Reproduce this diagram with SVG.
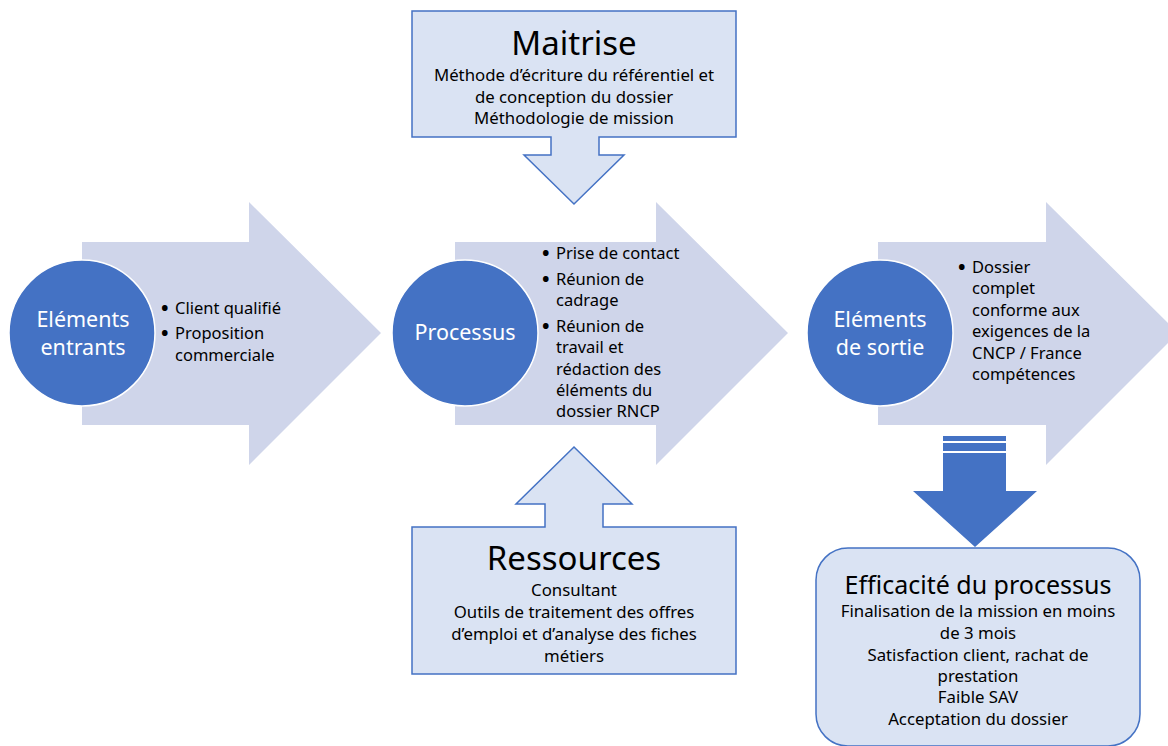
<svg xmlns="http://www.w3.org/2000/svg" width="1168" height="746" viewBox="0 0 1168 746">
<style>
.arrow{fill:#CFD5EA}
.circ{fill:#4472C4;stroke:#FFFFFF;stroke-width:1.5}
.box{fill:#DAE3F3;stroke:#4472C4;stroke-width:1.5}
.ct{font-family:"Noto Sans","Open Sans",sans-serif;font-size:21.5px;fill:#FFFFFF;text-anchor:middle}
.bt{font-family:"Noto Sans","Open Sans",sans-serif;font-size:16.5px;fill:#000000}
.bu{font-size:20px;font-weight:bold}
.mt{font-family:"Noto Sans","Open Sans",sans-serif;font-size:16.8px;fill:#000000;text-anchor:middle}
.big{font-family:"Noto Sans","Open Sans",sans-serif;font-size:33px;fill:#000000;text-anchor:middle}
.mid{font-family:"Noto Sans","Open Sans",sans-serif;font-size:25px;fill:#000000;text-anchor:middle}
</style>
<rect width="1168" height="746" fill="#FFFFFF"/>
<g id="connectors">
<path class="box" d="M412,11 H736 V137 H599 V155 H624 L574,204 L524,155 H551 V137 H412 Z"/>
<path class="box" d="M574,447 L632,504 H603 V527 H736 V674 H412 V527 H545 V504 H516 Z"/>
<g id="dark-arrow" fill="#4472C4">
<rect x="943" y="436" width="63" height="5"/>
<rect x="943" y="443" width="63" height="8"/>
<path d="M943,453 H1006 V491 H1037 L975,547 L913,491 H943 Z"/>
</g>
</g>
<g id="entrants">
<path class="arrow" d="M82,242 H249 V202 L381,333 L249,465 V425 H82 Z"/>
<circle class="circ" cx="82" cy="333" r="73"/>
<text class="ct" x="83" y="327">Eléments</text>
<text class="ct" x="83" y="355">entrants</text>
<text class="bt"><tspan class="bu" x="161" y="315">•</tspan><tspan x="175" y="314">Client qualifié</tspan><tspan class="bu" x="161" y="340">•</tspan><tspan x="175" y="339">Proposition</tspan><tspan x="175" y="361">commerciale</tspan></text>
</g>
<g id="processus">
<path class="arrow" d="M455,242 H656 V202 L788,333 L656,465 V425 H455 Z"/>
<circle class="circ" cx="465" cy="333" r="73"/>
<text class="ct" x="465" y="340">Processus</text>
<text class="bt"><tspan class="bu" x="542" y="260">•</tspan><tspan x="556" y="259">Prise de contact</tspan><tspan class="bu" x="542" y="286">•</tspan><tspan x="556" y="285">Réunion de</tspan><tspan x="556" y="306">cadrage</tspan><tspan class="bu" x="542" y="333">•</tspan><tspan x="556" y="332">Réunion de</tspan><tspan x="556" y="353">travail et</tspan><tspan x="556" y="375">rédaction des</tspan><tspan x="556" y="396">éléments du</tspan><tspan x="556" y="417">dossier RNCP</tspan></text>
</g>
<g id="sortie">
<path class="arrow" d="M878,242 H1046 V202 L1178,333 L1046,465 V425 H878 Z"/>
<circle class="circ" cx="880" cy="333" r="73"/>
<text class="ct" x="880" y="327">Eléments</text>
<text class="ct" x="880" y="355">de sortie</text>
<text class="bt"><tspan class="bu" x="958" y="274">•</tspan><tspan x="972" y="273">Dossier</tspan><tspan x="972" y="294">complet</tspan><tspan x="972" y="316">conforme aux</tspan><tspan x="972" y="337">exigences de la</tspan><tspan x="972" y="359">CNCP / France</tspan><tspan x="972" y="380">compétences</tspan></text>
</g>
<g id="maitrise">
<text class="big" x="574" y="55">Maitrise</text>
<text class="mt"><tspan x="574" y="81">Méthode d’écriture du référentiel et</tspan><tspan x="574" y="103">de conception du dossier</tspan><tspan x="574" y="124">Méthodologie de mission</tspan></text>
</g>
<g id="ressources">
<text class="big" x="574" y="570">Ressources</text>
<text class="mt"><tspan x="574" y="596">Consultant</tspan><tspan x="574" y="618">Outils de traitement des offres</tspan><tspan x="574" y="640">d’emploi et d’analyse des fiches</tspan><tspan x="574" y="662">métiers</tspan></text>
</g>
<g id="efficacite">
<rect class="box" x="816" y="548" width="324" height="198" rx="32"/>
<text class="mid" x="978" y="594">Efficacité du processus</text>
<text class="mt"><tspan x="978" y="617">Finalisation de la mission en moins</tspan><tspan x="978" y="639">de 3 mois</tspan><tspan x="978" y="661">Satisfaction client, rachat de</tspan><tspan x="978" y="682">prestation</tspan><tspan x="978" y="703">Faible SAV</tspan><tspan x="978" y="725">Acceptation du dossier</tspan></text>
</g>
</svg>
